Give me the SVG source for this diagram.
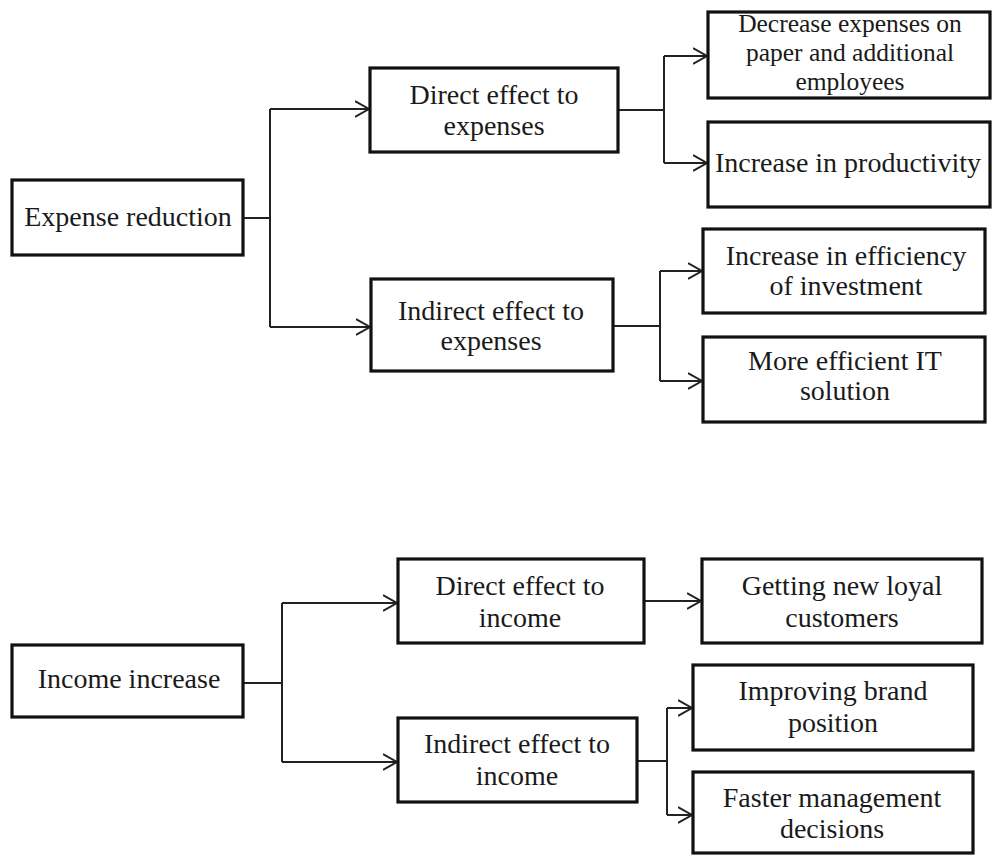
<svg xmlns="http://www.w3.org/2000/svg" width="992" height="855" viewBox="0 0 992 855">
<defs>
<style>
.box{fill:#fff;stroke:#111;stroke-width:3.2}
.t{font-family:"Liberation Serif","Times New Roman",serif;font-size:28px;fill:#1a1a1a;text-anchor:middle}
.s{font-size:25.5px}
.c{fill:none;stroke:#222;stroke-width:2}
.a{marker-end:url(#arr)}
</style>
<marker id="arr" markerUnits="userSpaceOnUse" markerWidth="18" markerHeight="20" refX="14" refY="9" orient="auto">
<path d="M0,1 L14,9 L0,17" fill="none" stroke="#222" stroke-width="2"/>
</marker>
</defs>
<rect width="992" height="855" fill="#fff"/>
<g id="connectors">
<path class="c" d="M243,218 H270 M270,109 V327"/>
<path class="c a" d="M270,109 H369"/>
<path class="c a" d="M270,327 H370"/>
<path class="c" d="M618,110 H664 M664,56 V163"/>
<path class="c a" d="M664,56 H707"/>
<path class="c a" d="M664,163 H707"/>
<path class="c" d="M613,326 H660 M660,271 V381"/>
<path class="c a" d="M660,271 H702"/>
<path class="c a" d="M660,381 H702"/>
<path class="c" d="M243,683 H282 M282,603 V762"/>
<path class="c a" d="M282,603 H397"/>
<path class="c a" d="M282,762 H397"/>
<path class="c a" d="M644,601 H701"/>
<path class="c" d="M637,761 H667 M667,708 V815"/>
<path class="c a" d="M667,708 H692"/>
<path class="c a" d="M667,815 H692"/>
</g>
<g id="expense-reduction"><rect class="box" x="12" y="180" width="231" height="75"/><text class="t" x="128" y="226">Expense reduction</text></g>
<g id="direct-expenses"><rect class="box" x="370" y="68" width="248" height="84"/><text class="t" x="494" y="104">Direct effect to</text><text class="t" x="494" y="135">expenses</text></g>
<g id="indirect-expenses"><rect class="box" x="371" y="279" width="242" height="92"/><text class="t" x="491" y="320">Indirect effect to</text><text class="t" x="491" y="350">expenses</text></g>
<g id="decrease-expenses"><rect class="box" x="708" y="12" width="282" height="86"/><text class="t s" x="850" y="32">Decrease expenses on</text><text class="t s" x="850" y="61">paper and additional</text><text class="t s" x="850" y="90">employees</text></g>
<g id="increase-productivity"><rect class="box" x="708" y="122" width="282" height="85"/><text class="t" x="848" y="172">Increase in productivity</text></g>
<g id="increase-efficiency"><rect class="box" x="703" y="229" width="282" height="84"/><text class="t" x="846" y="265">Increase in efficiency</text><text class="t" x="846" y="295">of investment</text></g>
<g id="more-efficient-it"><rect class="box" x="703" y="337" width="282" height="85"/><text class="t" x="845" y="370">More efficient IT</text><text class="t" x="845" y="400">solution</text></g>
<g id="income-increase"><rect class="box" x="12" y="645" width="231" height="72"/><text class="t" x="129" y="688">Income increase</text></g>
<g id="direct-income"><rect class="box" x="398" y="559" width="246" height="84"/><text class="t" x="520" y="595">Direct effect to</text><text class="t" x="520" y="627">income</text></g>
<g id="indirect-income"><rect class="box" x="398" y="718" width="239" height="84"/><text class="t" x="517" y="753">Indirect effect to</text><text class="t" x="517" y="785">income</text></g>
<g id="loyal-customers"><rect class="box" x="702" y="559" width="280" height="84"/><text class="t" x="842" y="595">Getting  new loyal</text><text class="t" x="842" y="627">customers</text></g>
<g id="brand-position"><rect class="box" x="693" y="665" width="280" height="85"/><text class="t" x="833" y="700">Improving brand</text><text class="t" x="833" y="732">position</text></g>
<g id="faster-decisions"><rect class="box" x="693" y="772" width="280" height="81"/><text class="t" x="832" y="807">Faster management</text><text class="t" x="832" y="838">decisions</text></g>
</svg>
